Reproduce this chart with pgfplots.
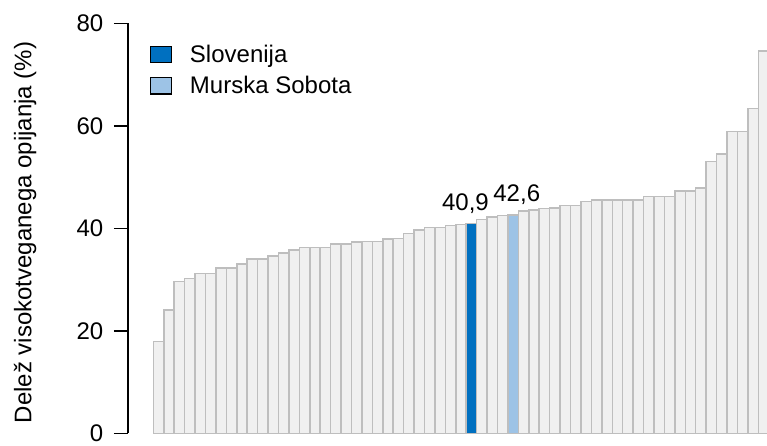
\documentclass[border=0pt]{standalone}
\usepackage{pgfplots}
\pgfplotsset{compat=1.18}
\usepackage{fontspec}
\setmainfont{Liberation Sans}

\definecolor{barfill}{RGB}{240,240,240}
\definecolor{baredge}{RGB}{190,190,190}
\definecolor{slo}{RGB}{0,112,192}
\definecolor{ms}{RGB}{157,195,230}

\begin{document}
\begin{tikzpicture}
% 1 px of the reference = 0.75pt
\useasboundingbox (-96pt,-8.8pt) rectangle (479.25pt,325pt);
\begin{axis}[
    scale only axis,
    width=479.25pt, height=307.5pt,
    xmin=-2.93, xmax=58.34,
    ymin=0, ymax=80,
    ybar, bar width=1, bar shift=0pt,
    separate axis lines,
    axis x line=none,
    axis y line=left,
    axis line style={-, line width=1.1pt, black},
    ytick={0,20,40,60,80},
    tick align=outside,
    major tick length=10.5pt,
    ytick style={line width=1.1pt, black},
    yticklabel style={xshift=-4.5pt},
    /pgf/number format/assume math mode=true,
    font=\fontsize{18}{21}\selectfont,
    ylabel={Delež visokotveganega opijanja (\%)},
    ylabel style={at={(axis description cs:-0.161,0.49)}, anchor=center},
    legend style={draw=none, fill=none, at={(axis description cs:0.034,0.955)},
        anchor=north west, inner sep=0pt, row sep=5pt,
        font=\fontsize{18}{21}\selectfont},
    legend cell align=left,
    legend image code/.code={%
        \draw[#1, draw=black, line width=0.9pt] (0pt,-6.2pt) rectangle (15.5pt,6.2pt);
        \path (27pt,0pt);},
]
\addplot[fill=barfill, draw=baredge, line width=1.1pt, forget plot] coordinates {
(0,17.9) (1,24.1) (2,29.6) (3,30.2) (4,31.2) (5,31.2) (6,32.3) (7,32.3)
(8,33.0) (9,34.0) (10,34.0) (11,34.6) (12,35.2) (13,35.8) (14,36.3) (15,36.3)
(16,36.3) (17,36.9) (18,36.9) (19,37.3) (20,37.4) (21,37.4) (22,37.9) (23,38.0)
(24,39.0) (25,39.7) (26,40.2) (27,40.2) (28,40.6) (29,40.7)
(31,41.7) (32,42.2) (33,42.5)
(35,43.4) (36,43.6) (37,43.9) (38,44.0) (39,44.5) (40,44.5) (41,45.2) (42,45.5)
(43,45.5) (44,45.5) (45,45.5) (46,45.5) (47,46.2) (48,46.2) (49,46.2) (50,47.3)
(51,47.3) (52,47.9) (53,53.0) (54,54.5) (55,58.9) (56,58.9) (57,63.4) (58,74.6)
};
\addplot[fill=slo, draw=baredge, line width=1.1pt,
    nodes near coords={40,9},
    nodes near coords style={anchor=base, inner sep=0pt, yshift=9.75pt, xshift=-4.5pt, black}]
    coordinates {(30,40.9)};
\addlegendentry{Slovenija}
\addplot[fill=ms, draw=baredge, line width=1.1pt,
    nodes near coords={42,6},
    nodes near coords style={anchor=base, inner sep=0pt, yshift=10.25pt, xshift=2.7pt, black}]
    coordinates {(34,42.6)};
\addlegendentry{Murska Sobota}
\end{axis}
\end{tikzpicture}
\end{document}
